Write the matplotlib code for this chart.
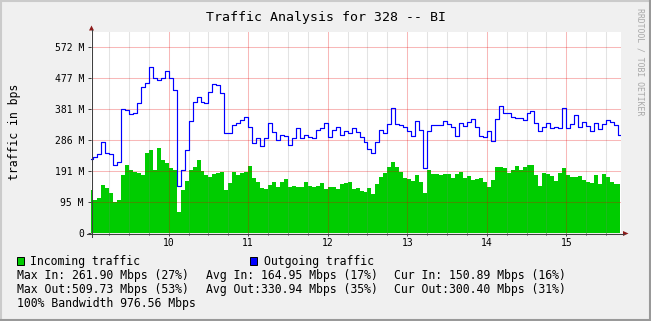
import numpy as np
import matplotlib
matplotlib.use('Agg')
import matplotlib.pyplot as plt
from matplotlib.ticker import FixedLocator, MultipleLocator
from matplotlib.patches import Rectangle, Polygon
from matplotlib.lines import Line2D

# ---------------- data (values in "M" = 2^20 bps, 3-minute samples from 09:01:30) ----------------
start_minute = 1.5
step_minutes = 3

incoming = [
    132.3, 101.5, 106.8, 147.7, 137.5, 122.1, 96.3, 101.5, 178.4, 209.2,
    193.8, 188.6, 183.7, 178.4, 245.2, 255.3, 193.8, 261.9, 224.6, 214.4,
    199.0, 193.8, 65.0, 132.3, 160.9, 193.8, 204.0, 224.6, 190.7, 178.4,
    173.2, 181.5, 183.7, 188.6, 132.3, 154.7, 188.6, 178.4, 183.7, 188.6,
    206.1, 168.3, 157.8, 139.4, 134.4, 147.7, 157.8, 142.4, 156.0, 167.0,
    142.4, 144.6, 142.4, 142.4, 156.9, 144.6, 142.4, 144.6, 152.9, 134.4,
    142.4, 142.4, 134.4, 149.8, 154.7, 157.8, 134.4, 137.5, 130.1, 127.1,
    137.5, 120.0, 150.7, 173.2, 185.5, 202.1, 219.3, 204.0, 188.6, 168.3,
    165.2, 160.9, 178.4, 157.8, 124.0, 193.8, 181.5, 180.6, 178.4, 181.5,
    181.5, 168.3, 180.6, 188.6, 168.3, 175.4, 163.0, 166.1, 168.3, 157.8,
    140.6, 163.0, 202.1, 202.1, 199.0, 185.5, 193.8, 207.0, 193.8, 204.0,
    209.2, 209.2, 178.4, 144.6, 183.7, 181.5, 176.3, 160.9, 183.7, 199.0,
    178.4, 171.4, 173.2, 175.4, 163.0, 156.9, 152.9, 178.4, 150.7, 181.5,
    171.4, 157.8, 150.7, 150.9,
]

outgoing = [
    226.7, 234.7, 243.0, 280.9, 245.2, 243.0, 209.2, 219.3, 380.5, 378.4,
    366.1, 368.2, 400.9, 448.2, 460.5, 509.7, 475.9, 470.7, 475.9, 499.3,
    475.9, 439.9, 145.0, 194.0, 255.0, 345.0, 403.9, 419.3, 403.9, 399.0,
    434.7, 458.4, 455.3, 429.8, 306.7, 308.6, 332.3, 337.5, 347.6, 357.8,
    327.0, 277.8, 291.3, 267.6, 291.3, 338.4, 311.6, 286.1, 301.5, 298.4,
    270.7, 291.3, 322.1, 291.3, 301.5, 296.3, 293.2, 316.9, 322.1, 339.3,
    296.3, 316.9, 327.0, 301.5, 314.7, 306.7, 322.1, 311.6, 296.3, 280.9,
    257.5, 245.2, 280.9, 316.9, 308.6, 335.3, 385.5, 335.3, 332.3, 327.0,
    314.7, 298.4, 345.5, 316.9, 199.0, 314.7, 332.3, 332.3, 332.3, 345.5,
    335.3, 327.0, 298.4, 337.5, 329.2, 342.4, 351.6, 327.0, 298.4, 294.4,
    313.8, 283.0, 349.8, 390.7, 370.1, 368.2, 357.8, 352.9, 352.9, 347.6,
    368.2, 376.2, 337.5, 313.8, 327.0, 339.3, 323.9, 327.0, 322.1, 383.6,
    322.1, 335.3, 363.0, 327.0, 342.4, 329.2, 314.7, 337.5, 319.9, 335.3,
    347.6, 342.4, 332.3, 300.4,
]

y_tick_values = [0, 95.367, 190.735, 286.102, 381.470, 476.837, 572.205]
y_tick_labels = ["0", "95 M", "191 M", "286 M", "381 M", "477 M", "572 M"]
x_tick_values = [10, 11, 12, 13, 14, 15]
x_tick_labels = ["10", "11", "12", "13", "14", "15"]

title = "Traffic Analysis for 328 -- BI"
y_label = "traffic in bps"
legend_in = "Incoming traffic"
legend_out = "Outgoing traffic"
stats_rows = [
    ["Max In: 261.90 Mbps (27%)", "Avg In: 164.95 Mbps (17%)", "Cur In: 150.89 Mbps (16%)"],
    ["Max Out:509.73 Mbps (53%)", "Avg Out:330.94 Mbps (35%)", "Cur Out:300.40 Mbps (31%)"],
]
bandwidth_line = "100% Bandwidth 976.56 Mbps"
watermark = "RRDTOOL / TOBI OETIKER"

# ---------------- figure ----------------
W, H, DPI = 651, 321, 100
fig = plt.figure(figsize=(W / DPI, H / DPI), dpi=DPI, facecolor='#F0F0F0')
mono = 'DejaVu Sans Mono'

L, R, T, B = 91, 621, 32, 233
ax = fig.add_axes([L / W, 1 - B / H, (R - L) / W, (B - T) / H])
ax.set_facecolor('white')

hours = 9 + (start_minute + step_minutes * np.arange(len(incoming))) / 60.0
ax.fill_between(hours, incoming, 0, step='mid', color='#00CC00', lw=0, zorder=1)
ax.plot(hours, outgoing, drawstyle='steps-mid', color='#0000FF', lw=0.85, zorder=3)

ax.set_xlim(9 + 1.36 / 60, 9 + 401.3 / 60)
ax.set_ylim(0, 618.3)

ax.xaxis.set_major_locator(FixedLocator(x_tick_values))
ax.set_xticklabels(x_tick_labels)
ax.xaxis.set_minor_locator(MultipleLocator(0.25))
ax.yaxis.set_major_locator(FixedLocator(y_tick_values))
ax.set_yticklabels(y_tick_labels)

ax.set_axisbelow(False)
ax.grid(True, which='major', axis='both', color=(0.9, 0.0, 0.0), alpha=0.28, lw=0.75)
ax.grid(True, which='minor', axis='x', color=(0.5, 0.5, 0.5), alpha=0.22, lw=0.75)

for s in ax.spines.values():
    s.set_visible(False)
ax.tick_params(axis='both', which='major', direction='out', length=2.2, width=0.7,
               color='#404040', labelsize=7, pad=2.9)
ax.tick_params(axis='x', which='major', pad=1.6)
ax.tick_params(axis='x', which='minor', direction='out', length=1.5, width=0.7, color='#404040')
for lab in ax.get_xticklabels() + ax.get_yticklabels():
    lab.set_fontfamily(mono)

# ---------------- overlay in pixel coordinates ----------------
ov = fig.add_axes([0, 0, 1, 1])
ov.set_xlim(0, W)
ov.set_ylim(H, 0)
ov.axis('off')
ov.patch.set_alpha(0)

# frame (3D shade)
ov.add_line(Line2D([0.5, W - 0.5], [0.5, 0.5], color='#CBCBCB', lw=1.5))
ov.add_line(Line2D([0.5, 0.5], [0.5, H - 0.5], color='#CBCBCB', lw=1.5))
ov.add_line(Line2D([W - 1, W - 1], [0, H], color='#999999', lw=1.5))
ov.add_line(Line2D([0, W], [H - 1, H - 1], color='#999999', lw=1.5))

# axes lines with arrows
ov.add_line(Line2D([91.5, 91.5], [237, 30], color='#404040', lw=0.75))
ov.add_line(Line2D([87, 624], [233.5, 233.5], color='#404040', lw=0.75))
ov.add_patch(Polygon([(89, 30.5), (94, 30.5), (91.5, 25.5)], closed=True, color='#8B1A1A', lw=0))
ov.add_patch(Polygon([(623, 231), (623, 236), (628.5, 233.5)], closed=True, color='#8B1A1A', lw=0))

# texts
ov.text(325.5, 17, title, fontfamily=mono, fontsize=9.5, ha='center', va='center', color='black')
ov.text(15, 132, y_label, fontfamily=mono, fontsize=8.3, rotation=90, ha='center', va='center')
ov.text(640, 8, watermark, fontfamily=mono, fontsize=5.9, rotation=270, ha='center', va='top',
        color='#A8A8A8')

# legend
ov.add_patch(Rectangle((16.5, 256.5), 7.5, 8, facecolor='#00CC00', edgecolor='black', lw=0.7))
ov.text(30.3, 261, legend_in, fontfamily=mono, fontsize=8.3, ha='left', va='center')
ov.add_patch(Rectangle((249.5, 256.5), 7.5, 8, facecolor='#0000FF', edgecolor='black', lw=0.7))
ov.text(264, 261, legend_out, fontfamily=mono, fontsize=8.3, ha='left', va='center')

col_x = [16.6, 206, 394.5]
row_y = [276, 289.5]
for r, row in enumerate(stats_rows):
    for c, txt in enumerate(row):
        ov.text(col_x[c], row_y[r], txt, fontfamily=mono, fontsize=8.3, ha='left', va='center')
ov.text(16.6, 303, bandwidth_line, fontfamily=mono, fontsize=8.3, ha='left', va='center')

fig.savefig('out.png', dpi=DPI, facecolor=fig.get_facecolor())
